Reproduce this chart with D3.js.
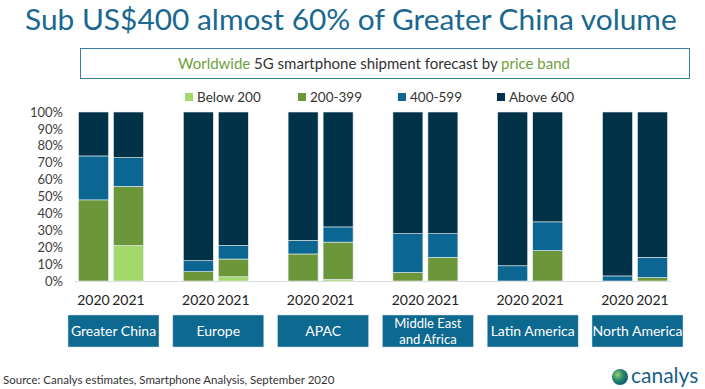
<!DOCTYPE html>
<html>
<head>
<meta charset="utf-8">
<script src="https://cdn.jsdelivr.net/npm/d3@7"></script>
<style>
  html, body { margin: 0; padding: 0; background: #fff; }
  svg { display: block; font-family: Lato, "Open Sans", sans-serif; }
</style>
</head>
<body>
<svg id="chart" width="705" height="389"></svg>
<script>
// ---- data ----
const categories = ["Greater China", "Europe", "APAC", "Middle East and Africa", "Latin America", "North America"];
const years = ["2020", "2021"];
const seriesNames = ["Below 200", "200-399", "400-599", "Above 600"];
// share (%) per category, per year
const below200_2020 = [0, 0, 0, 0, 0, 0];
const below200_2021 = [21, 2.5, 1, 0, 0, 0];
const p200_399_2020 = [48, 5.5, 16, 5, 0, 0];
const p200_399_2021 = [35, 10.5, 22, 14, 18, 2];
const p400_599_2020 = [26, 6.5, 8, 23, 9, 3];
const p400_599_2021 = [17, 8, 9, 14, 17, 12];
const above600_2020 = [26, 88, 76, 72, 91, 97];
const above600_2021 = [27, 79, 68, 72, 65, 86];
const yTicks = [0, 10, 20, 30, 40, 50, 60, 70, 80, 90, 100];
const titleText = "Sub US$400 almost 60% of Greater China volume";
const sourceText = "Source: Canalys estimates, Smartphone Analysis, September 2020";

const colors = ["#a2d86c", "#6b973a", "#0b6792", "#023247"];

// ---- build table ----
const byYear = {
  "2020": [below200_2020, p200_399_2020, p400_599_2020, above600_2020],
  "2021": [below200_2021, p200_399_2021, p400_599_2021, above600_2021]
};
const rows = [];
categories.forEach((c, i) => {
  years.forEach(y => {
    const r = { category: c, year: y };
    seriesNames.forEach((s, k) => { r[s] = byYear[y][k][i]; });
    rows.push(r);
  });
});
const stacked = d3.stack().keys(seriesNames)(rows);

const svg = d3.select("#chart");

// ---- scales ----
const x0 = d3.scaleBand().domain(categories).range([58.6, 687.4]).padding(0);
const x1 = d3.scaleBand().domain(years).range([19.9, 84.9]).paddingInner(1 / 7).paddingOuter(0);
const y = d3.scaleLinear().domain([0, 100]).range([281, 112]);

// ---- title ----
function fitText(sel, target) {
  const w = sel.node().getComputedTextLength();
  const fs = parseFloat(sel.attr("font-size"));
  sel.attr("font-size", fs * target / w);
}
const title = svg.append("text")
  .attr("x", 25).attr("y", 30)
  .attr("font-size", 29)
  .attr("fill", "#1a6890")
  .text(titleText);
fitText(title, 652);

// ---- subtitle box ----
svg.append("rect")
  .attr("x", 80.5).attr("y", 48.5).attr("width", 609).attr("height", 30)
  .attr("fill", "#fff").attr("stroke", "#3a7fa6").attr("stroke-width", 1);
const sub = svg.append("text")
  .attr("x", 374).attr("y", 68.5)
  .attr("text-anchor", "middle")
  .attr("font-size", 15)
  .attr("fill", "#333");
sub.append("tspan").attr("fill", "#6f9f3d").text("Worldwide");
sub.append("tspan").text(" 5G smartphone shipment forecast by ");
sub.append("tspan").attr("fill", "#6f9f3d").text("price band");

// ---- legend ----
const legendX = [185, 298, 398, 497];
const lg = svg.append("g").selectAll("g").data(seriesNames).join("g")
  .attr("transform", (d, i) => `translate(${legendX[i]},97)`);
lg.append("rect").attr("x", 0).attr("y", -4).attr("width", 8).attr("height", 8)
  .attr("fill", (d, i) => colors[i]);
lg.append("text").attr("x", 12).attr("y", 4.5).attr("font-size", 13.5).attr("fill", "#333").text(d => d);

// ---- y axis ----
const yAxis = svg.append("g")
  .attr("transform", "translate(66,0)")
  .call(d3.axisLeft(y).tickValues(yTicks).tickSize(0).tickPadding(3).tickFormat(d => d + "%"));
yAxis.select(".domain").remove();
yAxis.selectAll("text").attr("font-size", 13).attr("fill", "#404040").attr("font-family", "Lato, 'Open Sans', sans-serif");

// ---- baseline ----
svg.append("line")
  .attr("x1", 75).attr("x2", 671).attr("y1", y(0) + 0.5).attr("y2", y(0) + 0.5)
  .attr("stroke", "#d9d9d9").attr("stroke-width", 1.2);

// ---- bars ----
svg.append("g").selectAll("g").data(stacked).join("g")
  .attr("fill", (d, i) => colors[i])
  .selectAll("rect").data(d => d).join("rect")
  .attr("x", d => x0(d.data.category) + x1(d.data.year))
  .attr("width", x1.bandwidth())
  .attr("y", d => y(d[1]))
  .attr("height", d => Math.max(0, y(d[0]) - y(d[1])))
  .attr("stroke", "#e8eef2").attr("stroke-width", 0.6);

// ---- year labels ----
const yl = svg.append("g");
rows.forEach(r => {
  yl.append("text")
    .attr("x", x0(r.category) + x1(r.year) + x1.bandwidth() / 2)
    .attr("y", 305)
    .attr("text-anchor", "middle")
    .attr("font-size", 14)
    .attr("fill", "#222")
    .text(r.year);
});

// ---- category boxes ----
const cg = svg.append("g").selectAll("g").data(categories).join("g")
  .attr("transform", d => `translate(${x0(d) + x0.bandwidth() / 2 + 2.5},0)`);
cg.append("rect").attr("x", -45.5).attr("y", 315).attr("width", 91).attr("height", 32)
  .attr("fill", "#0e6990").attr("stroke", "#d0dde6").attr("stroke-width", 0.5);
cg.each(function (d) {
  const g = d3.select(this);
  if (d === "Middle East and Africa") {
    g.append("text").attr("text-anchor", "middle").attr("font-size", 13).attr("fill", "#fff")
      .attr("x", 0).attr("y", 328).text("Middle East");
    g.append("text").attr("text-anchor", "middle").attr("font-size", 13).attr("fill", "#fff")
      .attr("x", 0).attr("y", 344).text("and Africa");
  } else {
    g.append("text").attr("text-anchor", "middle").attr("font-size", 14).attr("fill", "#fff")
      .attr("x", 0).attr("y", 336).text(d);
  }
});

// ---- source ----
svg.append("text").attr("x", 3).attr("y", 384).attr("font-size", 11.5).attr("fill", "#333").text(sourceText);

// ---- logo ----
const defs = svg.append("defs");
const grad = defs.append("radialGradient").attr("id", "globe").attr("cx", "35%").attr("cy", "35%").attr("r", "75%");
grad.append("stop").attr("offset", "0%").attr("stop-color", "#9bd36a");
grad.append("stop").attr("offset", "45%").attr("stop-color", "#2c8a6e");
grad.append("stop").attr("offset", "100%").attr("stop-color", "#0b4f7a");
svg.append("circle").attr("cx", 620).attr("cy", 377).attr("r", 8).attr("fill", "url(#globe)");
svg.append("text").attr("x", 631).attr("y", 383).attr("font-size", 21).attr("fill", "#1a5f88").text("canalys");
</script>
</body>
</html>
